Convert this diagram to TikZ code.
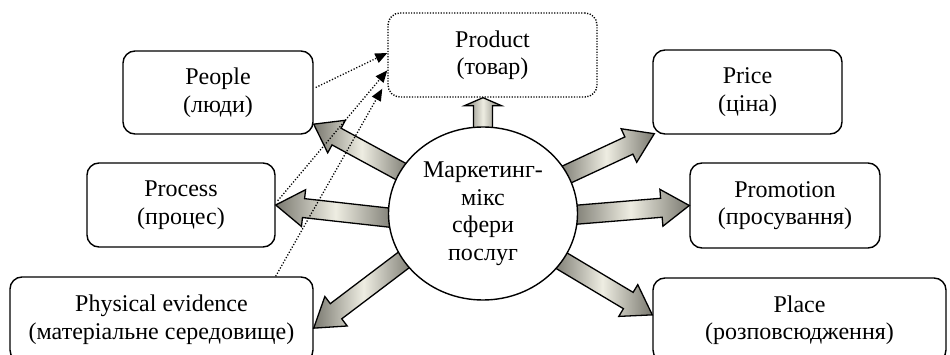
\documentclass[tikz,border=0pt]{standalone}
\usepackage{fontspec}
\setmainfont{Liberation Serif}
\usetikzlibrary{calc,arrows.meta,shapes.geometric,backgrounds}
\definecolor{arrowdark}{HTML}{7A7970}
\definecolor{arrowlight}{HTML}{EEEDE2}

% block arrow from tail #1 to tip #2 with head length #3
\newcommand\blockarrow[3]{%
  \coordinate (ba-base) at ($(#2)!#3!(#1)$);
  \path[fatarrow]
    ($(#1)!9.5pt!90:(#2)$) -- ($(ba-base)!9.5pt!90:(#2)$) --
    ($(ba-base)!18.5pt!90:(#2)$) -- (#2) --
    ($(ba-base)!18.5pt!-90:(#2)$) -- ($(ba-base)!9.5pt!-90:(#2)$) --
    ($(#1)!9.5pt!-90:(#2)$) -- cycle;}

\begin{document}
\begin{tikzpicture}[x=1pt,y=-1pt,
  lbl/.style={font=\fontsize{24}{27.5}\selectfont, align=center, inner sep=0pt},
  card/.style={lbl, draw, line width=1.4pt, rounded corners=12pt},
  dottedcard/.style={lbl, draw, line width=1.4pt, dash pattern=on 1.2pt off 1.5pt, rounded corners=12pt},
  hub/.style={lbl, draw, fill=white, ellipse, line width=1.4pt},
  fatarrow/.style={draw, line width=1.3pt, line join=miter,
    left color=arrowdark, right color=arrowdark, middle color=arrowlight},
  hint/.style={line width=1.3pt, dash pattern=on 1.2pt off 1.8pt,
    -{Triangle[length=12pt,width=10pt]}},
]
\useasboundingbox (0,0) rectangle (950,355);

% boxes
\node[dottedcard, minimum width=209, minimum height=84] (prod) at (492.5,55) {Product\\(товар)};
\node[card, minimum width=190, minimum height=83] (people) at (218,92.5) {People\\(люди)};
\node[card, minimum width=188, minimum height=84] (process) at (181,205) {Process\\(процес)};
\node[card, minimum width=303, minimum height=85] (phys) at (161.5,319.5) {Physical evidence\\(матеріальне середовище)};
\node[card, minimum width=189, minimum height=84] (price) at (747.5,92) {Price\\(ціна)};
\node[card, minimum width=190, minimum height=85] (promo) at (785,205.5) {Promotion\\(просування)};
\node[card, minimum width=293, minimum height=84] (place) at (799.5,320) {Place\\(розповсюдження)};

% central ellipse
\node[hub, minimum width=189, minimum height=173] (c) at (483,213.5) {Маркетинг-\\мікс\\сфери\\послуг};

% arrow tails (just inside the ellipse) and tips
\coordinate (t-up)      at ($(c.north)!4pt!(c.center)$);
\coordinate (t-people)  at ($(c.153)!6pt!(c.center)$);
\coordinate (t-process) at ($(c.183)!6pt!(c.center)$);
\coordinate (t-phys)    at ($(c.210)!6pt!(c.center)$);
\coordinate (t-price)   at ($(c.25)!6pt!(c.center)$);
\coordinate (t-promo)   at ($(c.-1.5)!6pt!(c.center)$);
\coordinate (t-place)   at ($(c.-31.5)!6pt!(c.center)$);

\coordinate (h-up)      at (c.north |- prod.south);
\coordinate (h-people)  at ($(people.east)!0.75!(people.south east)$);
\coordinate (h-process) at (process.east);
\coordinate (h-phys)    at ($(phys.north east)!0.6!(phys.south east)$);
\coordinate (h-price)   at ($(price.south west)+(2,-1)$);
\coordinate (h-promo)   at (promo.west);
\coordinate (h-place)   at ($(place.north west)!0.44!(place.south west)$);

\begin{scope}[on background layer]
  \blockarrow{t-up}{h-up}{8pt}
  \blockarrow{t-people}{h-people}{26pt}
  \blockarrow{t-process}{h-process}{28pt}
  \blockarrow{t-phys}{h-phys}{28pt}
  \blockarrow{t-price}{h-price}{28pt}
  \blockarrow{t-promo}{h-promo}{28pt}
  \blockarrow{t-place}{h-place}{28pt}
\end{scope}

% dotted links towards the product
\coordinate (d1s) at ($(people.east)+(2,-5)$);
\coordinate (d1e) at ($(prod.west)+(0,-2)$);
\coordinate (d2s) at ($(process.north east)!0.45!(process.south east)+(2,0)$);
\coordinate (d2e) at ($(prod.north west)!0.68!(prod.south west)$);
\coordinate (d3s) at ($(phys.north west)!0.875!(phys.north east)$);
\coordinate (d3e) at ($(prod.south west)+(-5,-9)$);
\draw[hint] (d1s) -- (d1e);
\draw[hint] (d2s) -- (d2e);
\draw[hint] (d3s) -- (d3e);
\end{tikzpicture}
\end{document}
